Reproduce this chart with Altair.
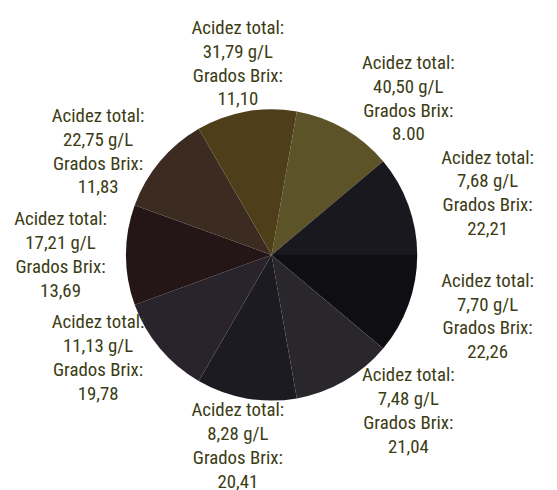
import altair as alt
import pandas as pd
import math

acidez = ["40,50", "7,68", "7,70", "7,48", "8,28", "11,13", "17,21", "22,75", "31,79"]
brix = ["8.00", "22,21", "22,26", "21,04", "20,41", "19,78", "13,69", "11,83", "11,10"]
share = [1, 1, 1, 1, 1, 1, 1, 1, 1]
colors = ["#5c5329", "#18181e", "#0f0e13", "#29272c", "#1d1b22",
          "#29242b", "#241616", "#3b2b20", "#4e3e19"]

start_deg = 10
total = sum(share)
cum = 0
sides = []
for s in share:
    mid = math.radians(start_deg + (cum + s / 2) / total * 360)
    cum += s
    sx = math.sin(mid)
    sides.append("right" if sx > 0.3 else ("left" if sx < -0.3 else "center"))

df = pd.DataFrame({
    "idx": list(range(len(acidez))),
    "share": share,
    "label": [f"Acidez total:\n{a} g/L\nGrados Brix:\n{b}" for a, b in zip(acidez, brix)],
    "key": [f"s{i}" for i in range(len(acidez))],
    "side": sides,
})

start = math.radians(start_deg)
tscale = alt.Scale(domain=[0, total], range=[start, start + 2 * math.pi])

pie = alt.Chart(df).mark_arc(radius=147, strokeWidth=0).encode(
    theta=alt.Theta("share:Q", stack=True, scale=tscale),
    order=alt.Order("idx:Q"),
    color=alt.Color("key:N", scale=alt.Scale(domain=df["key"].tolist(), range=colors), legend=None),
)

font = "Liberation Sans Narrow, Arial Narrow, Roboto Condensed, Liberation Sans"
text_style = dict(lineBreak="\n", fontSize=19, lineHeight=24, font=font,
                  color="#3c3c14", baseline="middle", dy=-36, align="center")


def label_layer(side, radius, dx):
    return alt.Chart(df).transform_window(
        cum="sum(share)", sort=[alt.SortField("idx")]
    ).transform_calculate(
        mid="datum.cum - datum.share / 2"
    ).transform_filter(alt.datum.side == side).mark_text(
        radius=radius, dx=dx, **text_style
    ).encode(
        theta=alt.Theta("mid:Q", stack=None, scale=tscale),
        text="label:N",
    )


layers = [
    pie,
    label_layer("right", 182, 47),
    label_layer("left", 162, -51),
    label_layer("center", 196, 0),
]

chart = alt.layer(*layers).properties(
    width=508, height=446,
    autosize=alt.AutoSizeParams(type="none"),
    padding={"top": 24, "left": 12, "right": 26, "bottom": 12}
).configure_view(stroke=None)

chart.save("out.html", embed_options={"renderer": "svg", "actions": False})
